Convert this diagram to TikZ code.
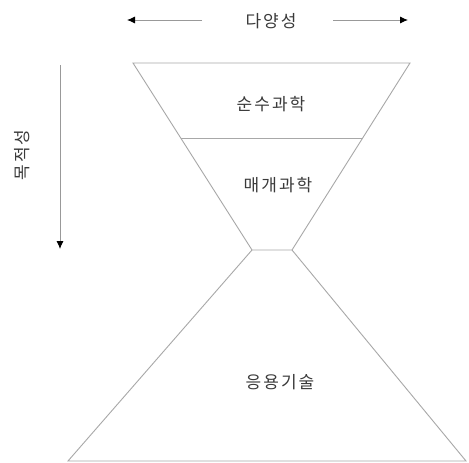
\documentclass[tikz,border=0pt]{standalone}
\usepackage{fontspec}
\newfontfamily\krfont[LetterSpace=12]{Noto Sans CJK KR}
\usetikzlibrary{arrows.meta}
\definecolor{linegray}{HTML}{A8A8A8}
\definecolor{textgray}{HTML}{3A3A3A}
\begin{document}
\begin{tikzpicture}[x=1pt,y=-1pt,
  label/.style={inner sep=0pt, text=textgray, font=\krfont\fontsize{17}{17}\selectfont},
  shapeline/.style={draw=linegray, line width=0.9pt, line join=miter},
  axisarrow/.style={draw=gray!80, line width=0.9pt, -{Latex[length=8pt,width=7pt,black]}}]
\useasboundingbox (0,0) rectangle (469,463);
\fill[white] (0,0) rectangle (469,463);
% shapes
\coordinate (TL) at (133,63);
\coordinate (TR) at (410,63);
\coordinate (ML) at (180.5,138);
\coordinate (MR) at (362.5,138);
\coordinate (NL) at (252,250);
\coordinate (NR) at (292,250);
\coordinate (BL) at (68,461);
\coordinate (BR) at (466,461);
\draw[shapeline] (TL) -- (TR) -- (NR) -- (NL) -- cycle;
\draw[shapeline] (ML) -- (MR);
\draw[shapeline] (NL) -- (BL) -- (BR) -- (NR);
% labels
\node[label] (pure) at (271,104) {순수과학};
\node[label] (mid) at (278,185) {매개과학};
\node[label] (app) at (280,382) {응용기술};
\node[label] (div) at (271,21) {다양성};
\node[label, rotate=90] (purp) at (22,155) {목적성};
% axis arrows
\coordinate (hLt) at (202,20);
\coordinate (hLh) at (127,20);
\coordinate (hRt) at (333,20);
\coordinate (hRh) at (408,20);
\coordinate (vT) at (60,65);
\coordinate (vH) at (60,249);
\draw[axisarrow] (hLt) -- (hLh);
\draw[axisarrow] (hRt) -- (hRh);
\draw[axisarrow] (vT) -- (vH);
\end{tikzpicture}
\end{document}
